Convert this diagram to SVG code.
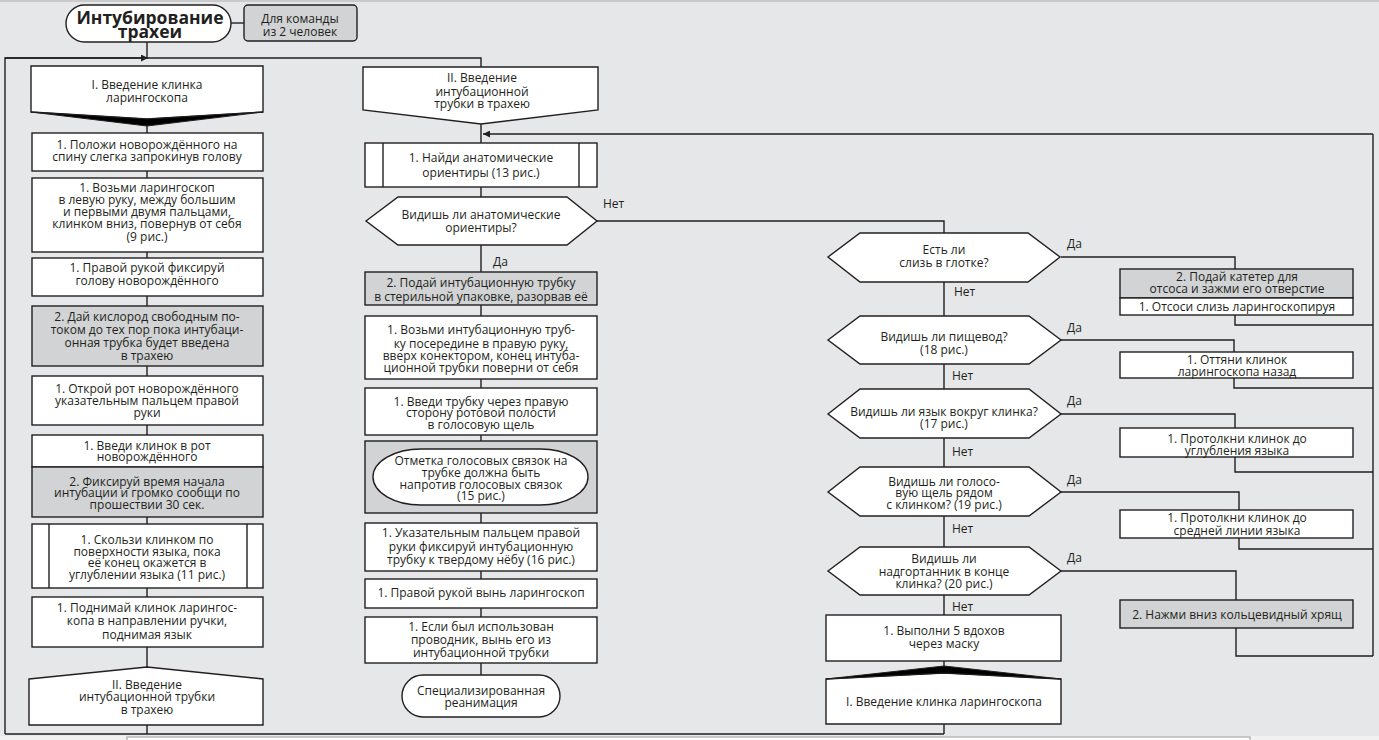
<svg xmlns="http://www.w3.org/2000/svg" width="1379" height="740" viewBox="0 0 1379 740">
<defs>
<style>
.bg{fill:#e6e7e8}
.w{fill:#ffffff;stroke:#231f20;stroke-width:1.4}
.g{fill:#d1d3d4;stroke:#231f20;stroke-width:1.4}
.blk{fill:#000000;stroke:#231f20;stroke-width:1}
.ln{fill:none;stroke:#231f20;stroke-width:1.4}
text{font-family:"Open Sans","Noto Sans",sans-serif;font-size:12px;fill:#231f20;text-anchor:middle}
.lbl{text-anchor:start}
.ttl{font-size:17.5px;font-weight:bold}
</style>
<marker id="ar" viewBox="0 0 10 10" refX="10" refY="5" markerWidth="9" markerHeight="7" markerUnits="userSpaceOnUse" orient="auto">
<path d="M0,0 L10,5 L0,10 z" fill="#231f20"/>
</marker>
</defs>
<rect class="bg" x="0" y="0" width="1379" height="740"/>
<rect x="0" y="0" width="1379" height="2" fill="#c9cacc"/>
<rect x="0" y="736" width="1379" height="4" fill="#f1f1f2"/>
<rect x="127" y="737" width="1123" height="6" fill="#ffffff" stroke="#9a9a9a" stroke-width="1"/>

<g id="connectors">
<path class="ln" d="M231,23 H244"/>
<path class="ln" d="M147,42 V58"/>
<path class="ln" d="M5,734 V58 H481 V67"/>
<path class="ln" d="M5,58 H148" marker-end="url(#ar)"/>
<path class="ln" d="M147,125 V133 M147,171 V178 M147,252 V258 M147,296 V306 M147,366 V376 M147,425 V435 M147,517 V524 M147,588 V597 M147,647 V667 M147,725 V734"/>
<path class="ln" d="M481,124 V143 M481,187 V197 M481,245 V272 M481,305 V316 M481,379 V388 M481,435 V441 M481,513 V523 M481,571 V579 M481,608 V617 M481,663 V675"/>
<path class="ln" d="M1373,134 H483" marker-end="url(#ar)"/>
<path class="ln" d="M1373,134 V656"/>
<path class="ln" d="M597,221 H944 V233"/>
<path class="ln" d="M944,282 V316 M944,364 V389 M944,438 V467 M944,516 V547 M944,595 V615 M944,661 V667 M944,724 V734"/>
<path class="ln" d="M1061,257 H1235 V269 M1235,315 V325 H1373"/>
<path class="ln" d="M1061,340 H1234 V352 M1234,378 V388 H1373"/>
<path class="ln" d="M1061,414 H1235 V428 M1235,457 V472 H1373"/>
<path class="ln" d="M1061,492 H1239 V510 M1239,538 V549 H1373"/>
<path class="ln" d="M1061,571 H1236 V600 M1236,628 V656 H1373"/>
<path class="ln" d="M5,734 H944"/>
<text class="lbl" x="603" y="208">Нет</text>
<text class="lbl" x="493" y="266">Да</text>
<text class="lbl" x="1067" y="248">Да</text>
<text class="lbl" x="954" y="296">Нет</text>
<text class="lbl" x="1067" y="332">Да</text>
<text class="lbl" x="952" y="380">Нет</text>
<text class="lbl" x="1067" y="405">Да</text>
<text class="lbl" x="952" y="456">Нет</text>
<text class="lbl" x="1067" y="484">Да</text>
<text class="lbl" x="952" y="533">Нет</text>
<text class="lbl" x="1067" y="562">Да</text>
<text class="lbl" x="952" y="611">Нет</text>
</g>

<g id="title">
<rect class="w" x="66" y="5" width="165" height="37" rx="18.5"/>
<text class="ttl"><tspan x="150" y="24">Интубирование</tspan><tspan x="150" y="38">трахеи</tspan></text>
</g>
<g id="team">
<rect class="g" x="244" y="5" width="113" height="36" rx="4"/>
<text><tspan x="300" y="23">Для команды</tspan><tspan x="300" y="36">из 2 человек</tspan></text>
</g>

<g id="l0">
<polygon class="w" points="31,66 263,66 263,112 147,119 31,112"/>
<polygon class="blk" points="31,112 147,119 263,112 147,126"/>
<text><tspan x="147" y="89">I. Введение клинка</tspan><tspan x="147" y="102">ларингоскопа</tspan></text>
</g>
<g id="l1">
<rect class="w" x="32" y="133" width="231" height="38"/>
<text><tspan x="147" y="149">1. Положи новорождённого на</tspan><tspan x="147" y="161">спину слегка запрокинув голову</tspan></text>
</g>
<g id="l2">
<rect class="w" x="32" y="178" width="231" height="74"/>
<text><tspan x="147" y="192">1. Возьми ларингоскоп</tspan><tspan x="147" y="204">в левую руку, между большим</tspan><tspan x="147" y="216">и первыми двумя пальцами,</tspan><tspan x="147" y="228">клинком вниз, повернув от себя</tspan><tspan x="147" y="241">(9 рис.)</tspan></text>
</g>
<g id="l3">
<rect class="w" x="32" y="258" width="231" height="38"/>
<text><tspan x="147" y="272">1. Правой рукой фиксируй</tspan><tspan x="147" y="285">голову новорождённого</tspan></text>
</g>
<g id="l4">
<rect class="g" x="32" y="306" width="231" height="60"/>
<text><tspan x="147" y="321">2. Дай кислород свободным по-</tspan><tspan x="147" y="334">током до тех пор пока интубаци-</tspan><tspan x="147" y="347">онная трубка будет введена</tspan><tspan x="147" y="360">в трахею</tspan></text>
</g>
<g id="l5">
<rect class="w" x="32" y="376" width="231" height="49"/>
<text><tspan x="147" y="393">1. Открой рот новорождённого</tspan><tspan x="147" y="405">указательным пальцем правой</tspan><tspan x="147" y="417">руки</tspan></text>
</g>
<g id="l6">
<rect class="w" x="32" y="435" width="231" height="32"/>
<rect class="g" x="32" y="467" width="231" height="50"/>
<text><tspan x="147" y="450">1. Введи клинок в рот</tspan><tspan x="147" y="461">новорождённого</tspan><tspan x="147" y="486">2. Фиксируй время начала</tspan><tspan x="147" y="497">интубации и громко сообщи по</tspan><tspan x="147" y="509">прошествии 30 сек.</tspan></text>
</g>
<g id="l7">
<rect class="w" x="32" y="524" width="231" height="64"/>
<path class="ln" d="M49,524 V588 M247,524 V588"/>
<text><tspan x="147" y="544">1. Скользи клинком по</tspan><tspan x="147" y="556">поверхности языка, пока</tspan><tspan x="147" y="567">её конец окажется в</tspan><tspan x="147" y="579">углублении языка (11 рис.)</tspan></text>
</g>
<g id="l8">
<rect class="w" x="32" y="597" width="231" height="50"/>
<text><tspan x="147" y="612">1. Поднимай клинок ларингос-</tspan><tspan x="147" y="625">копа в направлении ручки,</tspan><tspan x="147" y="639">поднимая язык</tspan></text>
</g>
<g id="l9">
<polygon class="w" points="29,679 147,667 263,679 263,725 29,725"/>
<text><tspan x="147" y="689">II. Введение</tspan><tspan x="147" y="701">интубационной трубки</tspan><tspan x="147" y="714">в трахею</tspan></text>
</g>

<g id="m0">
<polygon class="w" points="363,67 598,67 598,110 481,124 363,110"/>
<text><tspan x="482" y="82">II. Введение</tspan><tspan x="482" y="96">интубационной</tspan><tspan x="482" y="108">трубки в трахею</tspan></text>
</g>
<g id="m1">
<rect class="w" x="365" y="143" width="232" height="44"/>
<path class="ln" d="M383,143 V187 M579,143 V187"/>
<text><tspan x="481" y="162">1. Найди анатомические</tspan><tspan x="481" y="177">ориентиры (13 рис.)</tspan></text>
</g>
<g id="m2">
<polygon class="w" points="366,221 398,197 567,197 597,221 567,245 398,245"/>
<text><tspan x="481" y="219">Видишь ли анатомические</tspan><tspan x="481" y="232">ориентиры?</tspan></text>
</g>
<g id="m3">
<rect class="g" x="365" y="272" width="232" height="33"/>
<text><tspan x="481" y="287">2. Подай интубационную трубку</tspan><tspan x="481" y="301">в стерильной упаковке, разорвав её</tspan></text>
</g>
<g id="m4">
<rect class="w" x="365" y="316" width="232" height="63"/>
<text><tspan x="481" y="334">1. Возьми интубационную труб-</tspan><tspan x="481" y="348">ку посередине в правую руку,</tspan><tspan x="481" y="360">вверх конектором, конец интуба-</tspan><tspan x="481" y="372">ционной трубки поверни от себя</tspan></text>
</g>
<g id="m5">
<rect class="w" x="365" y="388" width="232" height="47"/>
<text><tspan x="481" y="406">1. Введи трубку через правую</tspan><tspan x="481" y="417">сторону ротовой полости</tspan><tspan x="481" y="429">в голосовую щель</tspan></text>
</g>
<g id="m6">
<rect class="g" x="365" y="441" width="232" height="72"/>
<rect class="w" x="373" y="449" width="215" height="56" rx="48" ry="28"/>
<text><tspan x="481" y="465">Отметка голосовых связок на</tspan><tspan x="481" y="477">трубке должна быть</tspan><tspan x="481" y="489">напротив голосовых связок</tspan><tspan x="481" y="500">(15 рис.)</tspan></text>
</g>
<g id="m7">
<rect class="w" x="365" y="523" width="232" height="48"/>
<text><tspan x="481" y="537">1. Указательным пальцем правой</tspan><tspan x="481" y="551">руки фиксируй интубационную</tspan><tspan x="481" y="564">трубку к твердому нёбу (16 рис.)</tspan></text>
</g>
<g id="m8">
<rect class="w" x="365" y="579" width="232" height="29"/>
<text x="481" y="597">1. Правой рукой вынь ларингоскоп</text>
</g>
<g id="m9">
<rect class="w" x="365" y="617" width="232" height="46"/>
<text><tspan x="481" y="631">1. Если был использован</tspan><tspan x="481" y="644">проводник, вынь его из</tspan><tspan x="481" y="657">интубационной трубки</tspan></text>
</g>
<g id="m10">
<rect class="w" x="402" y="675" width="158" height="42" rx="21"/>
<text><tspan x="481" y="695">Специализированная</tspan><tspan x="481" y="707">реанимация</tspan></text>
</g>

<g id="r1">
<polygon class="w" points="828,257 860,233 1028,233 1060,257 1028,282 860,282"/>
<text><tspan x="944" y="254">Есть ли</tspan><tspan x="944" y="267">слизь в глотке?</tspan></text>
</g>
<g id="r2">
<polygon class="w" points="828,340 860,316 1029,316 1061,340 1029,364 860,364"/>
<text><tspan x="944" y="341">Видишь ли пищевод?</tspan><tspan x="944" y="354">(18 рис.)</tspan></text>
</g>
<g id="r3">
<polygon class="w" points="828,414 860,389 1029,389 1061,414 1029,438 860,438"/>
<text><tspan x="944" y="416">Видишь ли язык вокруг клинка?</tspan><tspan x="944" y="428">(17 рис.)</tspan></text>
</g>
<g id="r4">
<polygon class="w" points="828,492 860,467 1029,467 1061,492 1029,516 860,516"/>
<text><tspan x="944" y="486">Видишь ли голосо-</tspan><tspan x="944" y="497">вую щель рядом</tspan><tspan x="944" y="509">с клинком? (19 рис.)</tspan></text>
</g>
<g id="r5">
<polygon class="w" points="828,571 860,547 1029,547 1061,571 1029,595 860,595"/>
<text><tspan x="944" y="563">Видишь ли</tspan><tspan x="944" y="576">надгортанник в конце</tspan><tspan x="944" y="588">клинка? (20 рис.)</tspan></text>
</g>
<g id="r6">
<rect class="w" x="826" y="615" width="235" height="46"/>
<text><tspan x="944" y="635">1. Выполни 5 вдохов</tspan><tspan x="944" y="648">через маску</tspan></text>
</g>
<g id="r7">
<polygon class="w" points="826,679 944,673 1061,679 1061,724 826,724"/>
<polygon class="blk" points="826,679 944,666 1061,679 944,673"/>
<text x="944" y="706">I. Введение клинка ларингоскопа</text>
</g>

<g id="s1">
<rect class="g" x="1120" y="269" width="233" height="29"/>
<rect class="w" x="1120" y="298" width="233" height="17"/>
<text><tspan x="1237" y="281">2. Подай катетер для</tspan><tspan x="1237" y="293">отсоса и зажми его отверстие</tspan><tspan x="1237" y="311">1. Отсоси слизь ларингоскопируя</tspan></text>
</g>
<g id="s2">
<rect class="w" x="1120" y="352" width="233" height="26"/>
<text><tspan x="1237" y="364">1. Оттяни клинок</tspan><tspan x="1237" y="376">ларингоскопа назад</tspan></text>
</g>
<g id="s3">
<rect class="w" x="1120" y="428" width="233" height="29"/>
<text><tspan x="1237" y="443">1. Протолкни клинок до</tspan><tspan x="1237" y="455">углубления языка</tspan></text>
</g>
<g id="s4">
<rect class="w" x="1120" y="510" width="233" height="28"/>
<text><tspan x="1237" y="522">1. Протолкни клинок до</tspan><tspan x="1237" y="535">средней линии языка</tspan></text>
</g>
<g id="s5">
<rect class="g" x="1120" y="600" width="233" height="28"/>
<text x="1237" y="619">2. Нажми вниз кольцевидный хрящ</text>
</g>
</svg>
